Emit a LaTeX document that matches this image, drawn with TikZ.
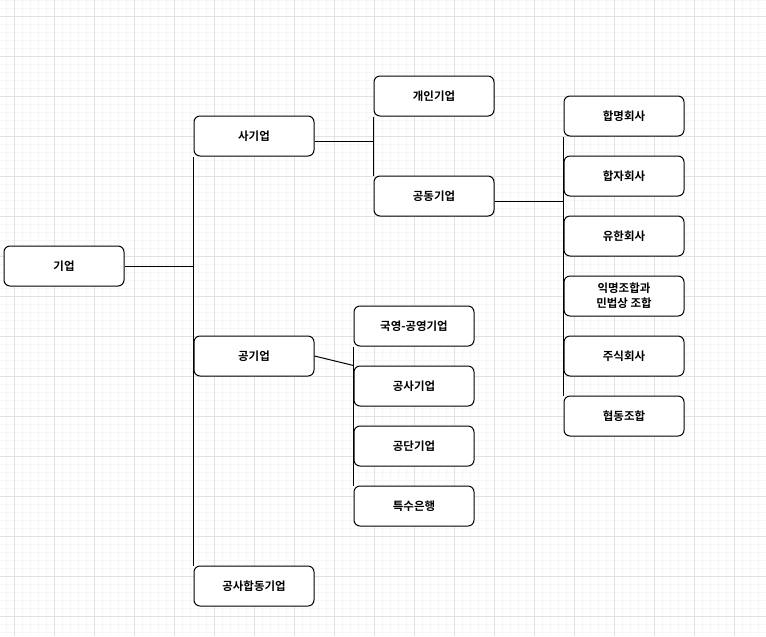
\documentclass[tikz,border=0pt]{standalone}
\usepackage{fontspec}
\newfontfamily\krfont{Noto Sans CJK KR Bold}
\definecolor{gridminor}{HTML}{F6F6F6}
\definecolor{gridmajor}{HTML}{E2E2E2}
\tikzset{
  box/.style={draw, line width=0.75pt, rounded corners=4.5pt, fill=white,
    minimum width=90pt, minimum height=30pt, inner sep=0pt, align=center,
    font=\krfont\fontsize{8.6}{11.25}\selectfont},
  link/.style={line width=0.75pt}
}
\begin{document}
\begin{tikzpicture}[x=0.75pt,y=-0.75pt]
\useasboundingbox (0,0) rectangle (766,636);
\fill[white] (0,0) rectangle (766,636);
% 모눈
\foreach \gx in {6,14,...,766} \draw[gridminor,line width=0.75pt] (\gx,0) -- (\gx,636);
\foreach \gy in {0,8,...,636} \draw[gridminor,line width=0.75pt] (0,\gy) -- (766,\gy);
\foreach \gx in {14,54,...,766} \draw[gridmajor,line width=0.75pt] (\gx,0) -- (\gx,636);
\foreach \gy in {16,56,...,636} \draw[gridmajor,line width=0.75pt] (0,\gy) -- (766,\gy);
% 기업
\node[box] (gieop) at (64,266) {기업};
\node[box] (sagieop) at (254,136) {사기업};
\node[box] (gonggieop) at (254,356) {공기업};
\node[box] (gonghap) at (254,586) {공사합동기업};
\draw[link] (gieop.east) -- (gieop.east -| sagieop.west);
\draw[link] (sagieop.south west) -- (gonghap.north west);
% 사기업
\node[box] (gaein) at (434,96) {개인기업};
\node[box] (gongdong) at (434,196) {공동기업};
\draw[link] ([yshift=-3.75pt]sagieop.east) -- ([yshift=-3.75pt]sagieop.east -| gaein.west);
\draw[link] (gaein.south west) -- (gongdong.north west);
% 공동기업
\node[box] (hapmyeong) at (624,116) {합명회사};
\node[box] (hapja) at (624,176) {합자회사};
\node[box] (yuhan) at (624,236) {유한회사};
\node[box] (ikmyeong) at (624,296) {익명조합과\\민법상 조합};
\node[box] (jusik) at (624,356) {주식회사};
\node[box] (hyeopdong) at (624,416) {협동조합};
\draw[link] ([yshift=-3.75pt]gongdong.east) -- ([yshift=-3.75pt]gongdong.east -| hapmyeong.west);
\draw[link] (hapmyeong.south west) -- (hyeopdong.north west);
% 공기업
\node[box] (gukyeong) at (414,326) {국영-공영기업};
\node[box] (gongsa) at (414,386) {공사기업};
\node[box] (gongdan) at (414,446) {공단기업};
\node[box] (teuksu) at (414,506) {특수은행};
\draw[link] (gonggieop.east) -- (gongsa.north west);
\draw[link] (gukyeong.south west) -- (teuksu.north west);
\end{tikzpicture}
\end{document}
